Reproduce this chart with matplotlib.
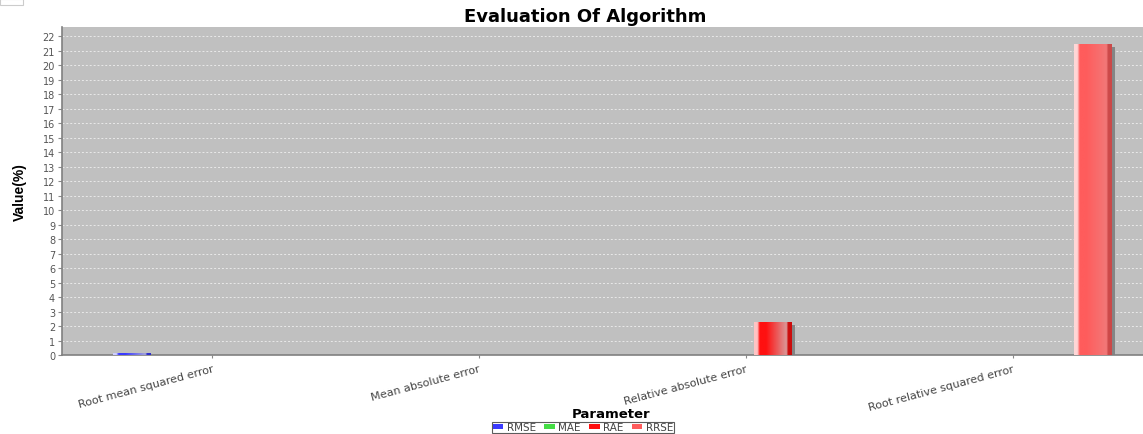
import numpy as np
import matplotlib
matplotlib.use("Agg")
import matplotlib.pyplot as plt
from matplotlib.colors import LinearSegmentedColormap, to_rgb
from matplotlib.patches import Rectangle
import matplotlib.transforms as mtransforms

# ---- data ----
categories = ["Root mean squared error", "Mean absolute error",
              "Relative absolute error", "Root relative squared error"]
series_names = ["RMSE", "MAE", "RAE", "RRSE"]
rmse_vals = [0.12, 0.0, 0.0, 0.0]
mae_vals = [0.0, 0.0, 0.0, 0.0]
rae_vals = [0.0, 0.0, 2.25, 0.0]
rrse_vals = [0.0, 0.0, 0.0, 21.5]
series_values = [rmse_vals, mae_vals, rae_vals, rrse_vals]
series_colors = ["#3a3aff", "#44dd44", "#ff1010", "#ff5c5c"]
y_ticks = list(range(0, 23))

W, H = 1143, 435
fig = plt.figure(figsize=(W / 100, H / 100), dpi=100)
fig.patch.set_facecolor("white")

left, right, top, bottom = 62, 1143, 28, 356
ax = fig.add_axes([left / W, 1 - bottom / H, (right - left) / W, (bottom - top) / H])
ax.set_facecolor("#c0c0c0")

slot = 0.2
bw = 0.139
x = np.arange(len(categories))

def gradient_colors(c, strong):
    r, g, b = to_rgb(c)
    light = tuple(min(1, v + (1 - v) * 0.75) for v in (r, g, b))
    mix = 0.72 if strong else 0.25
    grayish = tuple((1 - mix) * v + mix * 0.80 for v in (r, g, b))
    dark = tuple(v * 0.8 for v in (r, g, b))
    return [(0.0, light), (0.09, light), (0.15, (r, g, b)), (0.32, (r, g, b)),
            (0.86, grayish), (0.9, dark), (1.0, dark)]

for si, (name, vals, col) in enumerate(zip(series_names, series_values, series_colors)):
    xs = x + (si - 1.5) * slot
    shadow_tr = mtransforms.offset_copy(ax.transData, fig=fig, x=4, y=-3, units="dots")
    for xi, v in zip(xs, vals):
        if v > 0:
            ax.add_patch(Rectangle((xi - bw / 2, 0), bw, v, transform=shadow_tr,
                                   facecolor="#858585", edgecolor="none", zorder=2,
                                   clip_on=True))
    bars = ax.bar(xs, vals, width=bw, color=col, label=name, zorder=3, linewidth=0)
    cmap = LinearSegmentedColormap.from_list("g" + name,
                                             gradient_colors(col, name in ("RAE", "RMSE")))
    grad = np.linspace(0, 1, 256).reshape(1, -1)
    for b, v in zip(bars, vals):
        if v > 0:
            x0 = b.get_x()
            im = ax.imshow(grad, cmap=cmap, aspect="auto",
                           extent=[x0, x0 + b.get_width(), 0, v], zorder=4,
                           interpolation="bilinear")
            im.set_clip_path(b)

ax.set_xlim(-0.562, 3.488)
ax.set_ylim(0, 22.65)
ax.set_yticks(y_ticks)
ax.set_yticklabels([str(t) for t in y_ticks], fontsize=7, color="#555555",
                   family="DejaVu Sans")
ax.set_xticks(x)
ax.set_xticklabels(categories, rotation=15, ha="right", rotation_mode="anchor",
                   fontsize=8, color="#444444")
ax.tick_params(axis="y", length=3, color="#888888", pad=2)
ax.tick_params(axis="x", length=2, color="#888888", pad=4)
ax.yaxis.grid(True, color="white", linestyle=(0, (2, 2)), linewidth=0.7, alpha=0.65)
ax.xaxis.grid(False)
ax.set_axisbelow(True)
for s in ["top", "right"]:
    ax.spines[s].set_visible(False)
ax.spines["left"].set_color("#808080")
ax.spines["bottom"].set_color("#808080")
ax.spines["left"].set_linewidth(1.2)
ax.spines["bottom"].set_linewidth(1.2)

ax.set_ylabel("Value(%)", fontsize=10, fontweight="bold",
              family=["Liberation Sans", "DejaVu Sans"], labelpad=11)

fig.text(585 / W, 1 - 17 / H, "Evaluation Of Algorithm", ha="center", va="center",
         fontsize=13, fontweight="heavy", family="DejaVu Sans")
fig.text(611 / W, 1 - 415 / H, "Parameter", ha="center", va="center",
         fontsize=9.5, fontweight="bold")

handles, labels = ax.get_legend_handles_labels()
leg = fig.legend(handles, labels, loc="lower center", bbox_to_anchor=(583 / W, 1 / H),
                 ncol=4, fontsize=7.5, frameon=True, fancybox=False,
                 handlelength=1.0, handleheight=0.3, handletextpad=0.35,
                 columnspacing=0.8, borderpad=0.05, borderaxespad=0)
leg.get_frame().set_edgecolor("#333333")
leg.get_frame().set_linewidth(0.8)
for t in leg.get_texts():
    t.set_color("#444444")

# small empty box artifact in top-left corner
fig.patches.append(Rectangle((0, 1 - 6 / H), 23 / W, 6 / H, transform=fig.transFigure,
                             facecolor="white", edgecolor="#cccccc", linewidth=0.8))

fig.savefig("out.png", dpi=100)
